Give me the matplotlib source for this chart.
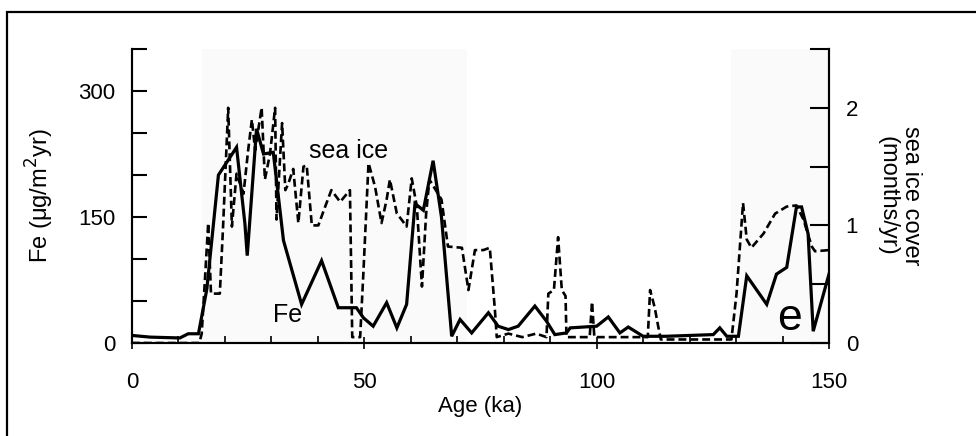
import matplotlib
matplotlib.use("Agg")
import matplotlib.pyplot as plt
from matplotlib.patches import Rectangle
from matplotlib.ticker import MultipleLocator, FixedLocator

plt.rcParams['font.family'] = ['Liberation Sans', 'DejaVu Sans']

# ---- data ----
fe_age = [0, 3.9, 10.3, 12.1, 14.3, 16.1, 18.6, 22.5, 24.3, 24.8, 26.8, 28.3, 30.4,
          32.6, 36.5, 40.8, 44.4, 48.3, 49.8, 51.9, 54.8, 57.0, 59.1, 60.9, 62.7,
          64.8, 66.6, 68.8, 70.6, 73.1, 76.7, 78.8, 81.0, 83.1, 86.7, 89.2, 91.0,
          93.5, 94.3, 100.0, 102.5, 105.0, 106.8, 110.0, 115.0, 125.1, 126.5, 128.0,
          130.5, 132.3, 136.6, 138.7, 140.9, 143.0, 144.1, 145.5, 146.6, 150.0]
fe_flux = [9, 7, 6, 11, 11, 64, 200, 233, 142, 104, 255, 225, 227,
           122, 46, 98, 42, 42, 30, 20, 48, 18, 46, 166, 158,
           217, 150, 8, 28, 12, 36, 20, 16, 20, 44, 26, 10,
           12, 18, 20, 31, 12, 19, 8, 8, 10, 18, 8,
           8, 80, 46, 82, 90, 162, 162, 130, 14, 82]

ice_age = [0, 14.5, 15.0, 15.7, 16.4, 17.0, 18.9, 19.6, 20.7, 21.5, 22.5, 24.0,
           25.0, 25.8, 26.5, 27.9, 28.6, 29.7, 30.8, 31.1, 32.3, 33.0, 33.6, 34.7,
           35.8, 36.9, 37.6, 38.7, 40.1, 41.2, 42.9, 44.8, 46.9, 47.4, 49.1, 49.8,
           50.9, 52.3, 53.7, 54.8, 55.5, 57.0, 58.0, 59.1, 60.2, 61.3, 62.4, 63.3,
           64.0, 66.6, 68.0, 71.0, 72.4, 73.8, 75.6, 77.0, 78.1, 78.5, 81.0, 84.0,
           87.0, 89.2, 89.6, 90.8, 91.7, 92.5, 93.3, 93.5, 98.5, 99.0, 99.5, 111.0,
           111.5, 112.5, 113.2, 113.8, 129.0, 130.1, 131.5, 132.3, 133.3, 135.9,
           138.4, 140.9, 143.0, 144.5, 146.3, 147.0, 150.0]
ice_cover = [0, 0, 0.08, 0.54, 1.02, 0.42, 0.42, 0.99, 2.0, 0.99, 1.44, 1.27,
             1.64, 1.90, 1.64, 2.0, 1.39, 1.61, 2.0, 1.05, 1.87, 1.30, 1.35, 1.48,
             1.02, 1.50, 1.51, 1.0, 1.0, 1.12, 1.30, 1.20, 1.30, 0.05, 0.05, 0.6,
             1.53, 1.33, 1.02, 1.22, 1.39, 1.10, 1.05, 0.99, 1.40, 1.16, 0.48, 1.10,
             1.39, 1.22, 0.82, 0.81, 0.45, 0.79, 0.79, 0.81, 0.28, 0.05, 0.08, 0.05,
             0.08, 0.05, 0.42, 0.45, 0.90, 0.45, 0.40, 0.05, 0.05, 0.35, 0.05, 0.05,
             0.45, 0.30, 0.15, 0.03, 0.03, 0.42, 1.19, 0.88, 0.81, 0.93,
             1.10, 1.16, 1.17, 1.05, 0.82, 0.78, 0.79]

x_ticks = [0, 50, 100, 150]
fe_ticks = [0, 150, 300]
ice_ticks = [0, 1, 2]

# ---- figure ----
fig = plt.figure(figsize=(9.76, 4.36), dpi=100)
ax = fig.add_axes([132/976, 1 - 343/436, (829-132)/976, (343-49)/436])
ax2 = ax.twinx()

# outer frame (only top and left edges visible in the reference)
fig.patches.append(Rectangle((7/976, -0.2), 1.2, 1.2 - 12/436, transform=fig.transFigure,
                             fill=False, lw=1.6, ec='black', clip_on=False))

# very faint scan shading
ax.axvspan(15, 72, color='#fafafa', zorder=0, lw=0)
ax.axvspan(129, 150, color='#fafafa', zorder=0, lw=0)

ax.plot(fe_age, fe_flux, color='black', lw=2.3, solid_joinstyle='miter', zorder=3)
ax2.plot(ice_age, ice_cover, color='black', lw=1.9, dashes=(3.0, 1.5), zorder=3)

ax.set_xlim(0, 150)
ax.set_ylim(0, 350)
ax2.set_ylim(0, 2.5)

for a in (ax, ax2):
    a.spines['top'].set_visible(False)
    for s in a.spines.values():
        s.set_linewidth(1.5)

ax.xaxis.set_major_locator(FixedLocator(x_ticks))
ax.xaxis.set_minor_locator(MultipleLocator(10))
ax.yaxis.set_major_locator(FixedLocator(fe_ticks))
ax.yaxis.set_minor_locator(MultipleLocator(50))
ax2.yaxis.set_major_locator(FixedLocator(ice_ticks))
ax2.yaxis.set_minor_locator(MultipleLocator(0.5))

ax.tick_params(axis='x', which='major', direction='inout', length=8, width=1.2,
               labelsize=16, pad=17)
ax.tick_params(axis='x', which='minor', direction='in', length=5, width=1.2)
ax.tick_params(axis='y', which='both', direction='in', length=11, width=1.5,
               labelsize=16, pad=12)
ax2.tick_params(axis='y', which='both', direction='in', length=14, width=1.5,
                labelsize=16, pad=12)

ax.set_xlabel('Age (ka)', fontsize=16, labelpad=2)
ax.set_ylabel('Fe (\u03bcg/m$^2$yr)', fontsize=17, labelpad=16)
ax2.set_ylabel('sea ice cover\n(months/yr)', fontsize=17, rotation=270,
               labelpad=46, linespacing=1.1)

ax.text(46.5, 229, 'sea ice', fontsize=18, ha='center', va='center')
ax.text(33.4, 33, 'Fe', fontsize=18, ha='center', va='center')
ax.text(141.6, 29, 'e', fontsize=32, ha='center', va='center')

fig.savefig('out.png', dpi=100)
